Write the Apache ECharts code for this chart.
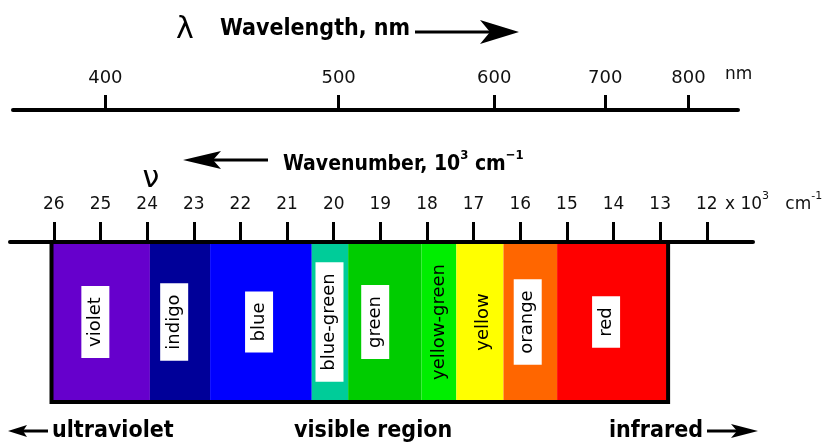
<!DOCTYPE html>
<html><head><meta charset="utf-8">
<script src="https://cdn.jsdelivr.net/npm/echarts@6/dist/echarts.min.js"></script>
<style>html,body{margin:0;padding:0;background:#fff}#c{width:833px;height:444px}</style>
</head><body><div id="c"></div>
<script>
// Visible spectrum bands, in wavenumber units of 10^3 cm^-1
const bandNames = ['violet','indigo','blue','blue-green','green','yellow-green','yellow','orange','red'];
const bandStart = [26.05, 23.94, 22.65, 20.47, 19.69, 18.12, 17.37, 16.36, 15.21];
const bandEnd   = [23.94, 22.65, 20.47, 19.69, 18.12, 17.37, 16.36, 15.21, 12.83];
const labelAt   = [25.11, 23.42, 21.60, 20.09, 19.11, 17.73, 16.80, 15.84, 14.16];
const wavenumberTicks = [26, 25, 24, 23, 22, 21, 20, 19, 18, 17, 16, 15, 14, 13, 12];
const wavelengthTicks = [400, 500, 600, 700, 800]; // nm

const bandColors = ['#6600cc','#000099','#0000ff','#00cc99','#00cc00','#00ee00','#ffff00','#ff6600','#ff0000'];
const labelBoxed = [true, true, true, true, true, false, false, true, true];

const condensed = '"DejaVu Sans Condensed", "Liberation Sans Narrow", "DejaVu Sans", sans-serif';
const plain = '"DejaVu Sans", sans-serif';

const chart = echarts.init(document.getElementById('c'), null, {renderer: 'canvas'});

function arrow(points, x1, x2, y) {
  return [
    {type: 'line', shape: {x1: x1, y1: y, x2: x2, y2: y}, style: {stroke: '#000', lineWidth: 3}},
    {type: 'polygon', shape: {points: points}, style: {fill: '#000'}}
  ];
}

const option = {
  backgroundColor: '#fff',
  animation: false,
  grid: [
    {left: 13, right: 95, top: 110, height: 1, containLabel: false, outerBoundsMode: 'none'},
    {left: 10, right: 80, top: 242, height: 160, containLabel: false, outerBoundsMode: 'none'}
  ],
  xAxis: [
    {
      gridIndex: 0, type: 'value', position: 'top', inverse: true, min: 11.44, max: 26.98,
      z: 10,
      axisLine: {show: true, onZero: false, lineStyle: {color: '#000', width: 4}},
      axisTick: {show: true, length: 15, lineStyle: {color: '#000', width: 3},
        customValues: wavelengthTicks.map(l => 10000 / l)},
      axisLabel: {show: true, margin: 23, color: '#111', fontSize: 18, fontFamily: plain,
        customValues: wavelengthTicks.map(l => 10000 / l),
        formatter: v => String(Math.round(10000 / v))},
      splitLine: {show: false}
    },
    {
      gridIndex: 1, type: 'value', position: 'top', inverse: true, min: 11.01, max: 26.94,
      z: 10,
      axisLine: {show: true, onZero: false, lineStyle: {color: '#000', width: 4}},
      axisTick: {show: true, length: 20, lineStyle: {color: '#000', width: 3},
        customValues: wavenumberTicks},
      axisLabel: {show: true, margin: 29, color: '#111', fontSize: 17, fontFamily: plain,
        customValues: wavenumberTicks, formatter: v => String(v)},
      splitLine: {show: false}
    }
  ],
  yAxis: [
    {gridIndex: 0, type: 'value', min: 0, max: 1, show: false},
    {gridIndex: 1, type: 'value', min: 0, max: 1, show: false}
  ],
  series: [
    {
      type: 'custom', xAxisIndex: 1, yAxisIndex: 1, z: 2,
      data: bandNames.map((n, i) => [bandStart[i], bandEnd[i], labelAt[i], i]),
      encode: {x: [0, 1], y: -1},
      renderItem: function (params, api) {
        const i = params.dataIndex;
        const p0 = api.coord([api.value(0), 1]);
        const p1 = api.coord([api.value(1), 0]);
        const lc = api.coord([api.value(2), 0.5]);
        const x0 = Math.min(p0[0], p1[0]), x1 = Math.max(p0[0], p1[0]);
        const textStyle = {
          text: bandNames[i], fill: '#000', fontSize: 18, fontFamily: plain,
          align: 'center', verticalAlign: 'middle'
        };
        if (labelBoxed[i]) { textStyle.backgroundColor = '#fff'; textStyle.padding = [5, 11]; }
        return {
          type: 'group',
          children: [
            {type: 'rect', shape: {x: x0, y: p0[1], width: x1 - x0, height: p1[1] - p0[1]},
              style: {fill: bandColors[i]}},
            {type: 'text', x: lc[0], y: lc[1], rotation: Math.PI / 2, style: textStyle}
          ]
        };
      }
    },
    {
      type: 'custom', xAxisIndex: 1, yAxisIndex: 1, z: 3,
      data: [[bandStart[0], bandEnd[bandEnd.length - 1]]],
      encode: {x: [0, 1], y: -1},
      renderItem: function (params, api) {
        const p0 = api.coord([api.value(0), 1]);
        const p1 = api.coord([api.value(1), 0]);
        const x0 = Math.min(p0[0], p1[0]), x1 = Math.max(p0[0], p1[0]);
        return {type: 'rect', shape: {x: x0, y: p0[1], width: x1 - x0, height: p1[1] - p0[1]},
          style: {fill: null, stroke: '#000', lineWidth: 4}};
      }
    }
  ],
  graphic: [
    {type: 'text', x: 185, y: 30, style: {text: 'λ', fontSize: 30, fontFamily: plain, fill: '#000', align: 'center', verticalAlign: 'middle'}},
    {type: 'text', x: 220, y: 29, style: {text: 'Wavelength, nm', fontSize: 23, fontWeight: 'bold', fontFamily: condensed, fill: '#000', align: 'left', verticalAlign: 'middle'}},
    ...arrow([[480, 20], [519, 32], [480, 44], [490, 32]], 415, 492, 32),
    {type: 'text', x: 725, y: 75, style: {text: 'nm', fontSize: 17, fontFamily: plain, fill: '#111', align: 'left', verticalAlign: 'middle'}},
    {type: 'text', x: 151, y: 179, style: {text: 'ν', fontSize: 30, fontFamily: plain, fill: '#000', align: 'center', verticalAlign: 'middle'}},
    ...arrow([[183, 160], [221, 151], [213, 160], [221, 169]], 213, 268, 160),
    {type: 'text', x: 283, y: 162, style: {
      text: '{b|Wavenumber, 10}{s|3}{b| cm}{s|−1}', align: 'left', verticalAlign: 'middle',
      rich: {
        b: {fontSize: 21, fontWeight: 'bold', fontFamily: condensed, fill: '#000', lineHeight: 26, verticalAlign: 'bottom'},
        s: {fontSize: 13, fontWeight: 'bold', fontFamily: condensed, fill: '#000', lineHeight: 26, verticalAlign: 'top'}
      }}},
    {type: 'text', x: 725, y: 202, style: {
      text: '{n|x 10}{s|3}{n|   cm}{s|-1}', align: 'left', verticalAlign: 'middle',
      rich: {
        n: {fontSize: 17, fontFamily: plain, fill: '#111', lineHeight: 22, verticalAlign: 'bottom'},
        s: {fontSize: 11, fontFamily: plain, fill: '#111', lineHeight: 22, verticalAlign: 'top'}
      }}},
    ...arrow([[8, 431], [27, 425], [23, 431], [27, 437]], 23, 48, 431),
    {type: 'text', x: 52, y: 431, style: {text: 'ultraviolet', fontSize: 23, fontWeight: 'bold', fontFamily: condensed, fill: '#000', align: 'left', verticalAlign: 'middle'}},
    {type: 'text', x: 294, y: 431, style: {text: 'visible region', fontSize: 23, fontWeight: 'bold', fontFamily: condensed, fill: '#000', align: 'left', verticalAlign: 'middle'}},
    {type: 'text', x: 609, y: 431, style: {text: 'infrared', fontSize: 23, fontWeight: 'bold', fontFamily: condensed, fill: '#000', align: 'left', verticalAlign: 'middle'}},
    ...arrow([[758, 431], [731, 424], [737, 431], [731, 438]], 707, 737, 431)
  ]
};
chart.setOption(option);
</script>
</body></html>
